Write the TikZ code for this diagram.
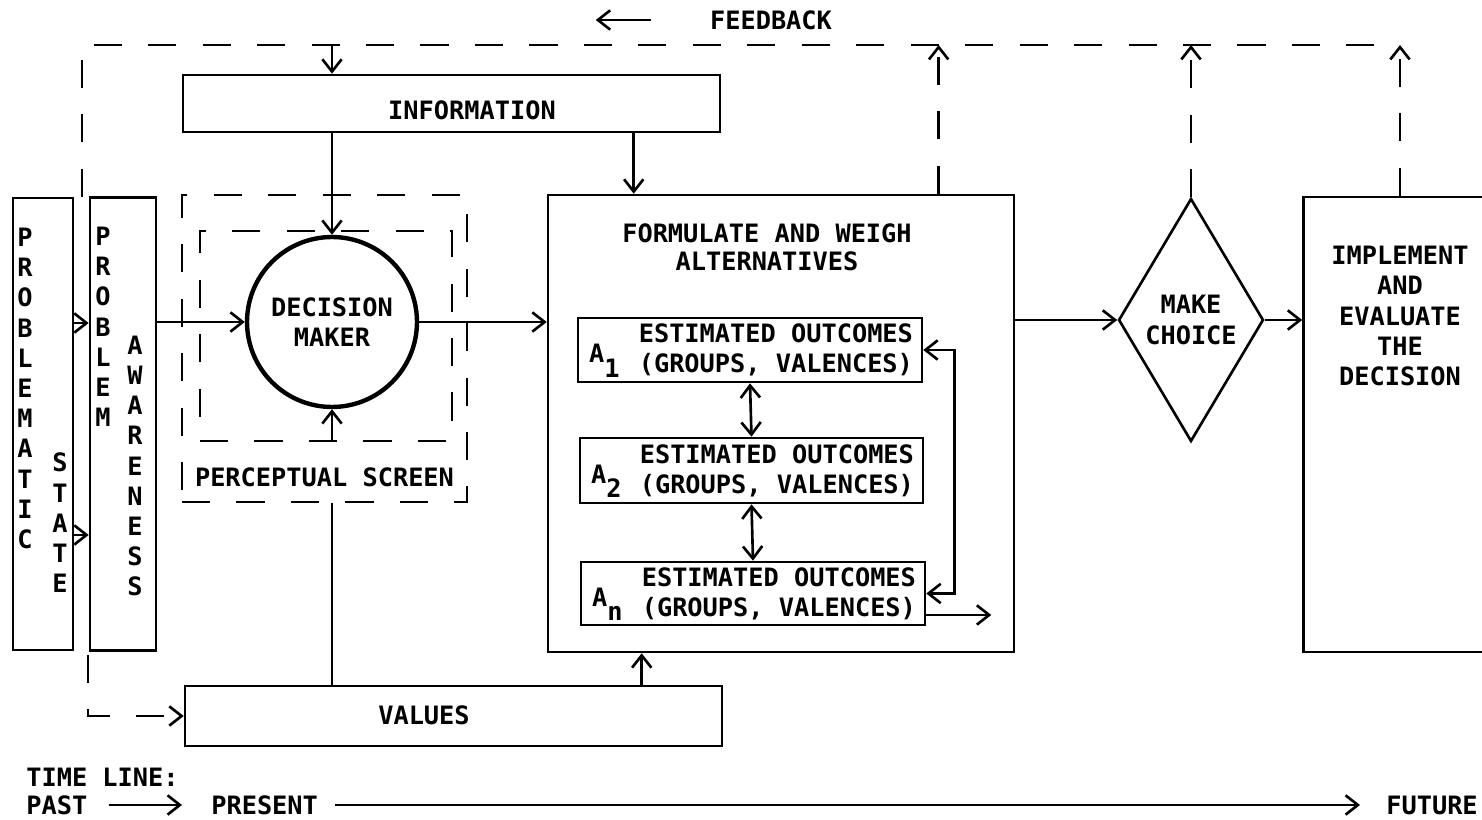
\documentclass[tikz,border=0pt]{standalone}
\usepackage{fontspec}
\setmainfont{DejaVu Sans Mono}
\usetikzlibrary{shapes.geometric, positioning, arrows.meta}
\newcommand{\diagfont}{\fontsize{14.4}{17.2}\selectfont\bfseries}
\tikzset{
  box/.style={draw, line width=1.5pt},
  fb/.style={line width=1.5pt, dash pattern=on 16pt off 15pt},
  vword/.style={align=center},
}
\begin{document}
\begin{tikzpicture}[x=0.02cm, y=-0.02cm, line width=1.5pt,
    >={Straight Barb[length=7pt,width=11pt]},
    every node/.style={inner sep=0pt, font=\diagfont}]
  \useasboundingbox (0,0) rectangle (1482,820);
  % problem boxes
  \node[box, minimum width=1.2cm, minimum height=9.04cm] (prob) at (43,424) {};
  \node[vword] (probw) at (25,388.5) {P\\R\\O\\B\\L\\E\\M\\A\\T\\I\\C};
  \node[vword] (statew) at (60,523) {S\\T\\A\\T\\E};
  \node[box, minimum width=1.32cm, minimum height=9.06cm] (aware) at (123,424) {};
  \node[vword] (problw) at (103,327) {P\\R\\O\\B\\L\\E\\M};
  \node[vword] (awarew) at (135,466) {A\\W\\A\\R\\E\\N\\E\\S\\S};
  % information, values
  \node[box, minimum width=10.74cm, minimum height=1.14cm] (info) at (451.5,103.5) {};
  \node (infot) at (472,110) {INFORMATION};
  \node[box, minimum width=10.74cm, minimum height=1.2cm] (values) at (453.5,716) {};
  \node (valt) at (424,715) {VALUES};
  % perceptual screen
  \node[draw, fb, minimum width=5.7cm, minimum height=6.14cm] (pscr) at (324.5,348.5) {};
  \node[draw, fb, minimum width=5.04cm, minimum height=4.2cm] (pscrin) at (326,336) {};
  \node[anchor=south] (pslbl) at ([yshift=0.3cm]pscr.south) {PERCEPTUAL SCREEN};
  \node[circle, draw, line width=2.5pt, fill=white, minimum size=3.4cm, align=center] (dm) at (332,322) {DECISION\\MAKER};
  % alternatives
  \node[box, minimum width=9.32cm, minimum height=9.14cm] (fw) at (781,423.5) {};
  \node[anchor=north, align=center, font=\fontsize{14.4}{16}\selectfont\bfseries] (fwt) at (767,222) {FORMULATE AND WEIGH\\ALTERNATIVES};
  \node[box, minimum width=6.88cm, minimum height=1.28cm] (a1) at (750,350) {};
  \node[box, minimum width=6.86cm, minimum height=1.3cm] (a2) at (751.5,470.5) {};
  \node[box, minimum width=6.88cm, minimum height=1.26cm] (an) at (753,593.5) {};
  \node[anchor=east, align=right] (a1t) at ([xshift=-0.18cm]a1.east) {ESTIMATED OUTCOMES\\(GROUPS, VALENCES)};
  \node[anchor=east, align=right] (a2t) at ([xshift=-0.18cm]a2.east) {ESTIMATED OUTCOMES\\(GROUPS, VALENCES)};
  \node[anchor=east, align=right] (ant) at ([xshift=-0.18cm]an.east) {ESTIMATED OUTCOMES\\(GROUPS, VALENCES)};
  \node[anchor=base west] (a1l) at ([xshift=0.22cm,yshift=-0.26cm]a1.west) {A\raisebox{-8pt}{1}};
  \node[anchor=base west] (a2l) at ([xshift=0.22cm,yshift=-0.26cm]a2.west) {A\raisebox{-8pt}{2}};
  \node[anchor=base west] (anl) at ([xshift=0.22cm,yshift=-0.26cm]an.west) {A\raisebox{-8pt}{n}};
  % choice, implement
  \node[diamond, draw, minimum width=2.9cm, minimum height=4.86cm, align=center] (mc) at (1191,320) {MAKE\\CHOICE};
  \node[box, minimum width=3.86cm, minimum height=9.1cm] (ie) at (1400,424.5) {};
  \node[anchor=north, align=center] (iet) at (1400,245) {IMPLEMENT\\AND\\EVALUATE\\THE\\DECISION};
  % arrows
  \draw[->] ([yshift=2.02cm]prob.east) -- ([yshift=2.02cm]aware.west);
  \draw[->] ([yshift=-2.22cm]prob.east) -- ([yshift=-2.22cm]aware.west);
  \draw[->] (aware.east |- dm) -- (dm.west);
  \draw[->] (dm.north |- info.south) -- (dm.north);
  \draw (dm.south |- values.north) -- (dm.south |- pscr.south);
  \draw[->] (dm.south |- pscrin.south) -- (dm.south);
  \draw[->] (dm.east) -- (fw.west |- dm.east);
  \coordinate (infoin) at ([xshift=1.74cm]fw.north west);
  \coordinate (valin) at ([xshift=1.9cm]fw.south west);
  \draw[->] (info.south -| infoin) -- (infoin);
  \draw[->] (values.north -| valin) -- (valin);
  \draw[<->] (a1.south) -- (a2.north);
  \draw[<->] (a2.south) -- (an.north);
  \draw[<->] (a1.east) -- ++(31,0) |- (an.east);
  \draw[->] ([yshift=-0.43cm]an.east) -- ++(65,0);
  \draw[->] (fw.east |- mc.west) -- (mc.west);
  \draw[->] (mc.east) -- (ie.west |- mc.east);
  % feedback
  \coordinate (fbtop) at (82,45);
  \coordinate (fbbot) at (88,655);
  \coordinate (fbfw) at ([xshift=7.84cm]fw.north west);
  \draw[fb] (fbtop |- prob.north) -- (fbtop) -- (fbtop -| ie.north);
  \draw[fb,->] (fbtop -| dm.north) -- (info.north -| dm.north);
  \draw[fb,->] (fw.north -| fbfw) -- (fbtop -| fbfw);
  \draw[fb,->] (mc.north) -- (mc.north |- fbtop);
  \draw[fb,->] (ie.north) -- (ie.north |- fbtop);
  \draw[fb,->] (fbbot) |- (values.west);
  \node (fbt) at (771,20) {FEEDBACK};
  \draw[->] ([xshift=-1.16cm]fbt.west) -- ++(-55,0);
  % time line
  \node[anchor=west] (tl) at (25,777) {TIME LINE:};
  \node[anchor=west] (past) at (25,805) {PAST};
  \node[anchor=west] (present) at (210,805) {PRESENT};
  \node[anchor=west] (future) at (1385,805) {FUTURE};
  \draw[->, shorten <=0.4cm, shorten >=0.56cm] (past.east) -- (present.west);
  \draw[->, shorten <=0.32cm, shorten >=0.5cm] (present.east) -- (future.west);
\end{tikzpicture}
\end{document}
